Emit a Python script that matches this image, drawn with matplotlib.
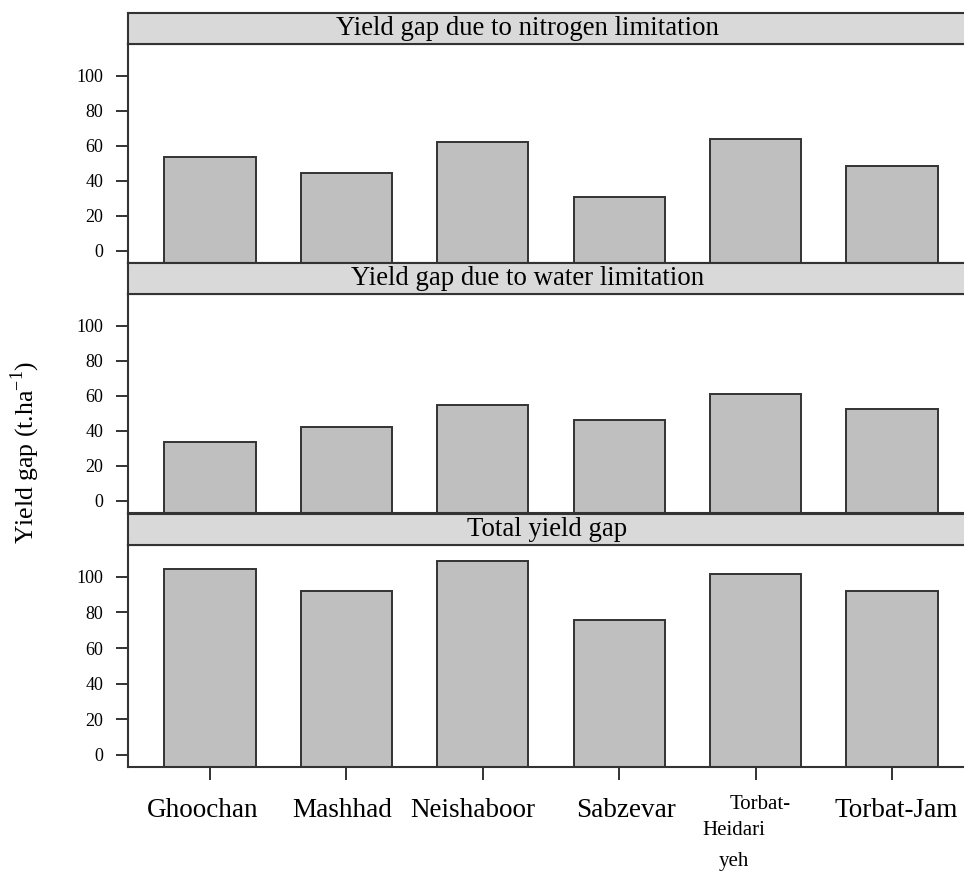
import matplotlib
matplotlib.use("Agg")
from matplotlib import pyplot as plt

plt.rcParams['font.family'] = ['Liberation Serif', 'DejaVu Serif']

stations = ['Ghoochan', 'Mashhad', 'Neishaboor', 'Sabzevar', 'Torbat-\nHeidari\nyeh', 'Torbat-Jam']
nitrogenGap = [53.6, 44.1, 62.1, 30.5, 63.6, 48.5]
waterGap = [33.5, 41.9, 54.4, 46.0, 60.9, 52.5]
totalGap = [104.4, 92.0, 109.2, 75.5, 101.5, 92.0]
panelTitles = ['Yield gap due to nitrogen limitation', 'Yield gap due to water limitation', 'Total yield gap']
yticks = [0, 20, 40, 60, 80, 100]

W, H = 964, 871
fig = plt.figure(figsize=(W / 100, H / 100), dpi=100)

def box(x0, y0, x1, y1):
    # pixel box (top-left origin) -> figure fraction rect
    return [x0 / W, 1 - y1 / H, (x1 - x0) / W, (y1 - y0) / H]

# (strip top, strip bottom, panel bottom) in pixels
panels = [(13, 44, 263), (263, 294, 513), (514, 545, 767)]
titleCenters = [527, 528, 547]
series = [nitrogenGap, waterGap, totalGap]
left, right = 128, 974
edge = '#333333'
ymin, ymax = -7, 118

# small label nudges (data units) to follow the original typesetting
labelShift = [-0.05, -0.03, -0.07, 0.05, 0.0, 0.03]
wrapShift = [0.03, -0.16, -0.16]
wrapY = [-0.171, -0.284, -0.425]

for idx, (top, mid, bottom) in enumerate(panels):
    ax = fig.add_axes(box(left, mid, right, bottom))
    x = list(range(len(stations)))
    # bars rise from the bottom of the panel, as in the original
    ax.bar(x, [v - ymin for v in series[idx]], width=0.67, bottom=ymin,
           color='#bfbfbf', edgecolor=edge, linewidth=1.4, zorder=2)
    ax.set_xlim(-0.6, 5.6)
    ax.set_ylim(ymin, ymax)
    ax.set_yticks(yticks)
    ax.set_yticklabels([str(t) for t in yticks], fontsize=13)
    ax.tick_params(axis='y', length=9, width=1.4, color=edge, pad=9)
    for s in ax.spines.values():
        s.set_linewidth(1.5)
        s.set_color(edge)
    if idx == len(panels) - 1:
        ax.set_xticks(x)
        ax.set_xticklabels([])
        ax.tick_params(axis='x', length=9, width=1.4, color=edge)
        for i, name in enumerate(stations):
            if '\n' in name:
                for j, part in enumerate(name.split('\n')):
                    ax.text(i + wrapShift[j], wrapY[j], part, transform=ax.get_xaxis_transform(),
                            ha='center', va='center', fontsize=15)
            else:
                ax.text(i + labelShift[i], -0.198, name, transform=ax.get_xaxis_transform(),
                        ha='center', va='center', fontsize=19.5)
    else:
        ax.set_xticks([])

    strip = fig.add_axes(box(left, top, right, mid))
    strip.set_facecolor('#d9d9d9')
    strip.set_xticks([])
    strip.set_yticks([])
    for s in strip.spines.values():
        s.set_linewidth(1.5)
        s.set_color(edge)
    strip.text((titleCenters[idx] - left) / (right - left), 0.5, panelTitles[idx], transform=strip.transAxes,
               ha='center', va='center', fontsize=19.3)

fig.text(25 / W, 1 - 452 / H, 'Yield gap (t.ha$^{\\mathregular{-1}}$)', rotation=90,
         ha='center', va='center', fontsize=18.5)

fig.savefig('out.png', dpi=100)
